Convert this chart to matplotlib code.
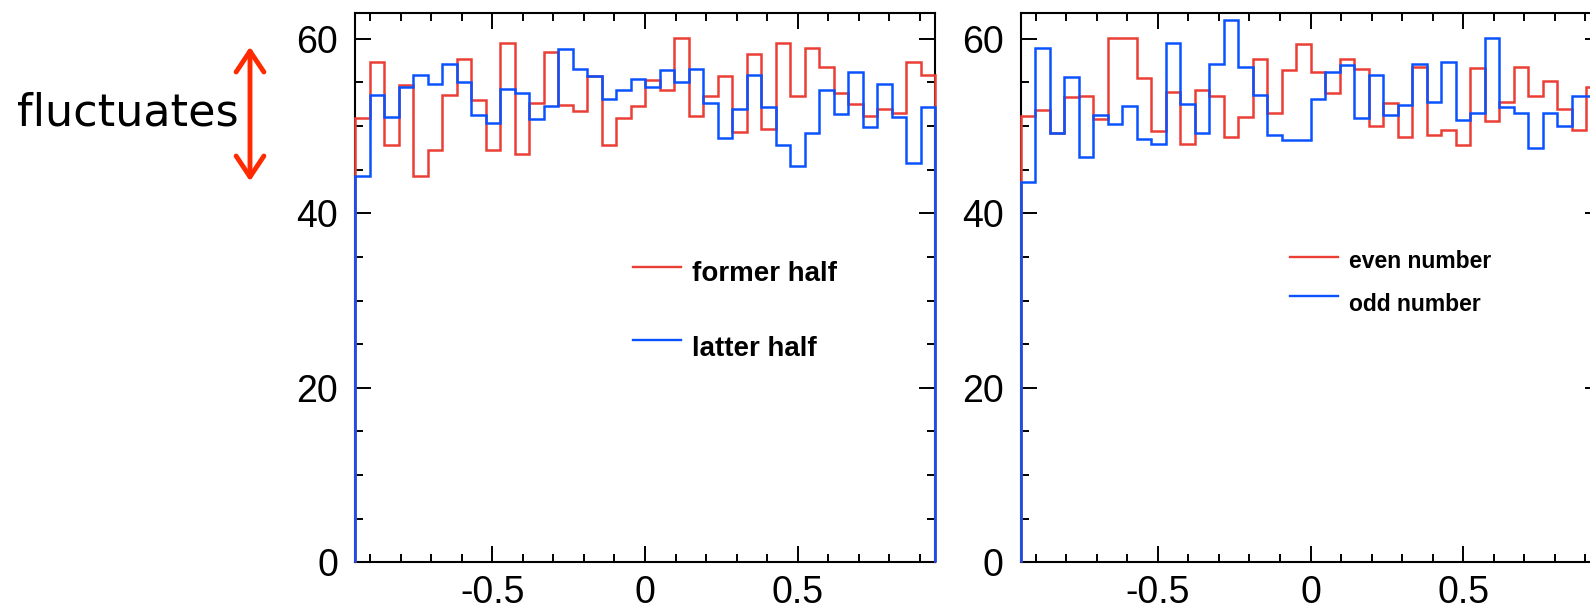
#!/usr/bin/env python3

import numpy as np
import matplotlib
matplotlib.use('Agg')
import matplotlib.pyplot as plt
from matplotlib.lines import Line2D
from matplotlib.patches import FancyArrowPatch
from matplotlib.ticker import MultipleLocator, FormatStrFormatter

# 40 bins between -0.95 and 0.95
x_min, x_max, n_bins = -0.95, 0.95, 40

# left panel: former / latter half
former_half = [50.9, 57.4, 47.8, 54.7, 44.3, 47.3, 53.6, 57.7, 53.0, 47.3,
               59.5, 46.8, 52.6, 58.5, 52.4, 51.7, 55.7, 47.8, 50.9, 52.3,
               55.3, 54.1, 60.1, 51.2, 53.5, 55.7, 49.3, 58.3, 49.7, 59.5,
               53.4, 59.0, 56.8, 53.8, 52.5, 51.2, 52.0, 51.5, 57.4, 55.9]
latter_half = [44.3, 53.6, 51.0, 54.5, 55.9, 54.8, 57.1, 55.1, 51.3, 50.3,
               54.3, 53.8, 50.8, 52.3, 58.8, 56.5, 55.7, 53.1, 54.1, 55.4,
               54.5, 56.4, 55.0, 56.5, 52.6, 48.6, 52.0, 55.9, 52.2, 47.8,
               45.4, 49.2, 54.1, 51.4, 56.2, 49.9, 54.8, 51.0, 45.8, 52.2]

# right panel: even / odd number
even_number = [51.2, 51.8, 49.2, 53.3, 53.5, 50.8, 60.1, 60.1, 55.5, 49.4,
               53.9, 47.9, 54.1, 53.4, 48.8, 51.0, 57.7, 51.5, 56.4, 59.4,
               56.2, 53.8, 57.7, 56.5, 50.0, 52.6, 48.7, 56.8, 49.0, 49.6,
               47.8, 56.7, 50.6, 52.8, 56.8, 53.4, 55.2, 52.0, 49.6, 54.5]
odd_number = [43.6, 58.9, 49.2, 55.6, 46.5, 51.3, 50.2, 52.3, 48.5, 48.0,
              59.5, 52.5, 49.2, 57.1, 62.2, 56.8, 53.6, 49.0, 48.4, 48.4,
              53.1, 56.2, 57.0, 50.9, 55.9, 51.3, 52.4, 57.1, 52.8, 57.4,
              50.7, 51.5, 60.1, 52.2, 51.5, 47.5, 51.5, 50.0, 53.4, 53.4]

left_labels = ['former half', 'latter half']
right_labels = ['even number', 'odd number']

RED = '#EB3F35'
BLUE = '#0A52FF'

plt.rcParams['font.family'] = ['Liberation Sans', 'DejaVu Sans']
plt.rcParams['axes.unicode_minus'] = False

W, H = 1590, 612
fig = plt.figure(figsize=(W / 100, H / 100), dpi=100)


def px_box(left, top, right, bottom):
    return [left / W, 1 - bottom / H, (right - left) / W, (bottom - top) / H]


def style_axes(ax):
    ax.set_xlim(x_min, x_max)
    ax.set_ylim(0, 63)
    ax.xaxis.set_major_locator(MultipleLocator(0.5))
    ax.xaxis.set_minor_locator(MultipleLocator(0.1))
    ax.yaxis.set_major_locator(MultipleLocator(20))
    ax.yaxis.set_minor_locator(MultipleLocator(5))
    ax.xaxis.set_major_formatter(FormatStrFormatter('%g'))
    ax.yaxis.set_major_formatter(FormatStrFormatter('%g'))
    ax.tick_params(which='both', direction='in', top=True, right=True,
                   width=1.4, labelsize=27)
    ax.tick_params(which='major', length=11.5)
    ax.tick_params(which='minor', length=5.5)
    ax.tick_params(axis='y', pad=12)
    ax.tick_params(axis='x', pad=9)
    for s in ax.spines.values():
        s.set_linewidth(1.5)


def legend_entry(ax, x0, x1, y_line, y_text, color, label, size):
    ax.add_line(Line2D([x0, x1], [y_line, y_line], color=color, lw=1.7,
                       transform=ax.transAxes))
    ax.text(x1 + 0.019, y_text, label, transform=ax.transAxes,
            fontsize=size, fontweight='bold', va='center', ha='left')


edges = np.linspace(x_min, x_max, n_bins + 1)

# left panel -- histograms sit on top of the frame like in the original
ax1 = fig.add_axes(px_box(355, 12.7, 935, 562.3))
ax1.stairs(former_half, edges, color=RED, lw=1.8, zorder=3, clip_on=False)
ax1.stairs(latter_half, edges, color=BLUE, lw=1.8, zorder=3.1, clip_on=False)
style_axes(ax1)
# legend placed by hand (axes fraction)
legend_entry(ax1, 0.480, 0.562, (562.3 - 266.7) / 549.6, (562.3 - 273.5) / 549.6,
             RED, left_labels[0], 20)
legend_entry(ax1, 0.480, 0.562, (562.3 - 340.0) / 549.6, (562.3 - 348.5) / 549.6,
             BLUE, left_labels[1], 20)

# right panel (runs past the right edge of the picture)
ax2 = fig.add_axes(px_box(1020.5, 12.7, 1600.5, 562.3))
ax2.stairs(even_number, edges, color=RED, lw=1.8, zorder=3, clip_on=False)
ax2.stairs(odd_number, edges, color=BLUE, lw=1.8, zorder=3.1, clip_on=False)
style_axes(ax2)
legend_entry(ax2, 0.465, 0.547, (562.3 - 256.5) / 549.6, (562.3 - 261.0) / 549.6,
             RED, right_labels[0], 16.5)
legend_entry(ax2, 0.465, 0.547, (562.3 - 295.7) / 549.6, (562.3 - 304.0) / 549.6,
             BLUE, right_labels[1], 16.5)

# annotation on the left
fig.text(17 / W, 1 - 113 / H, 'fluctuates', fontsize=32, family='DejaVu Sans',
         va='center', ha='left')
arrow = FancyArrowPatch((250 / W, 1 - 44 / H), (250 / W, 1 - 184 / H),
                        transform=fig.transFigure,
                        arrowstyle='<->,head_length=0.75,head_width=0.5',
                        mutation_scale=20, color='#FF2A00', lw=3.5)
fig.add_artist(arrow)

fig.savefig('out.png', dpi=100)
print("Saved out.png")
